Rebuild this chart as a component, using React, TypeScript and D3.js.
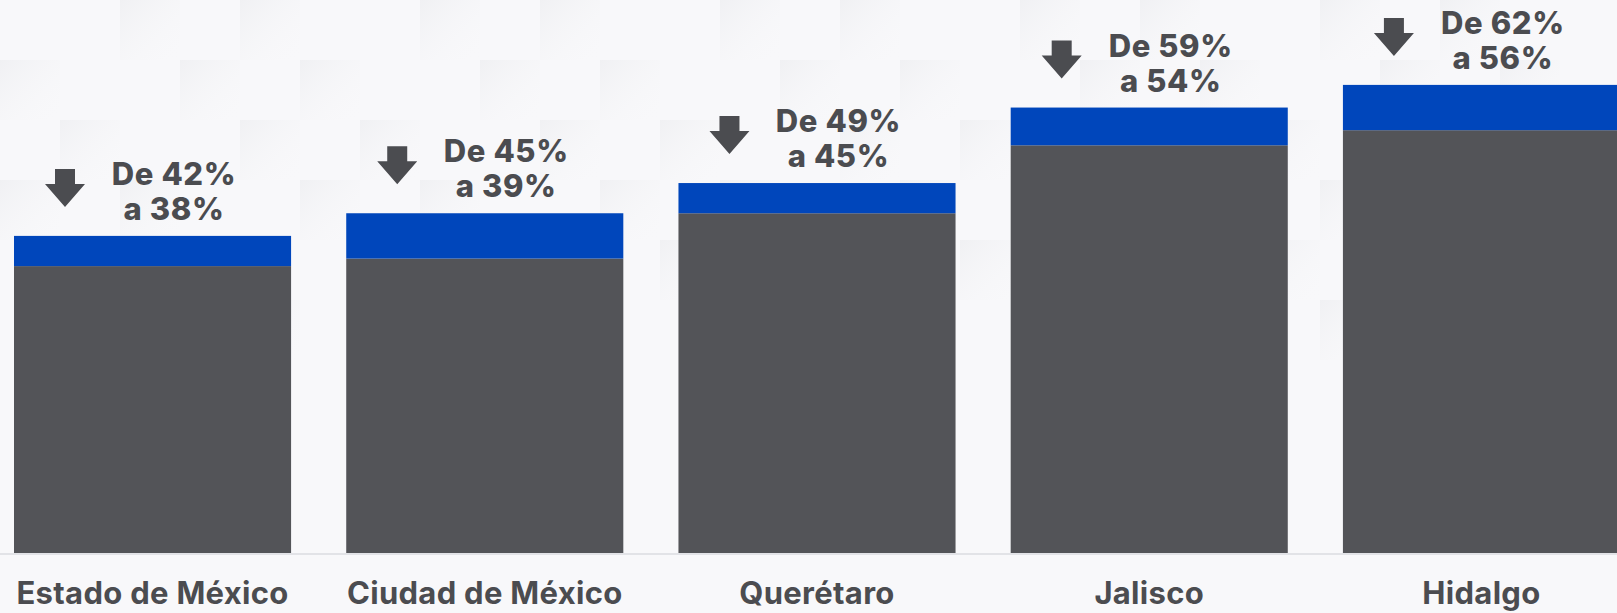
import React from "react";
import * as d3 from "d3";

const categories = ["Estado de México", "Ciudad de México", "Querétaro", "Jalisco", "Hidalgo"];
const beforeValues = [42, 45, 49, 59, 62];
const afterValues = [38, 39, 45, 54, 56];

const W = 1617;
const H = 613;
const BASE_Y = 553;

const GRAY = "#535458";
const BLUE = "#0046BB";
const TEXT = "#4B4C50";
const FONT = "Inter, 'Noto Sans', sans-serif";

export default function App() {
  const x = d3.scaleBand<string>().domain(categories).range([14, 1620]).paddingInner(0.166).paddingOuter(0);
  const y = d3.scaleLinear().domain([0, 100]).range([BASE_Y, BASE_Y - 755]);
  const bw = x.bandwidth();

  const arrow = (cx: number, tipY: number) => {
    const hw = 20, sw = 10, headH = 23, total = 38;
    const top = tipY - total, hs = tipY - headH;
    return `M${cx - sw},${top} L${cx + sw},${top} L${cx + sw},${hs} L${cx + hw},${hs} L${cx},${tipY} L${cx - hw},${hs} L${cx - sw},${hs} Z`;
  };

  const tiles: { x: number; y: number; o: number }[] = [];
  const tileSize = 60;
  for (let i = 0; i * tileSize < W; i++) {
    for (let j = 0; j * tileSize < 360; j++) {
      const v = ((i * 7 + j * 13) % 5) / 5;
      tiles.push({ x: i * tileSize, y: j * tileSize, o: v });
    }
  }

  return (
    <svg width={W} height={H} style={{ position: "absolute", left: 0, top: 0 }} fontFamily={FONT}>
      <defs>
        <linearGradient id="tileG" x1="0" y1="0" x2="1" y2="1">
          <stop offset="0" stopColor="#e4e5e9" stopOpacity="0.8" />
          <stop offset="1" stopColor="#f8f8fa" stopOpacity="0" />
        </linearGradient>
      </defs>
      <rect x={0} y={0} width={W} height={H} fill="#f8f8fa" />
      {tiles.filter(t => t.o > 0.55).map((t, i) => (
        <rect key={i} x={t.x} y={t.y} width={tileSize} height={tileSize} fill="url(#tileG)" opacity={0.5} />
      ))}
      <line x1={0} x2={W} y1={BASE_Y + 1} y2={BASE_Y + 1} stroke="#e2e3e7" strokeWidth={2} />
      {categories.map((c, i) => {
        const x0 = x(c)!;
        const topB = y(beforeValues[i]);
        const topA = y(afterValues[i]);
        const cx = x0 + bw / 2;
        return (
          <g key={c}>
            <rect x={x0} y={topA} width={bw} height={BASE_Y - topA} fill={GRAY} />
            <rect x={x0} y={topB} width={bw} height={topA - topB} fill={BLUE} />
            <path d={arrow(x0 + 51, topB - 29)} fill={TEXT} />
            <text x={x0 + 160} y={topB - 51} textAnchor="middle" fontSize={31} fontWeight={800} letterSpacing={0.6} fill={TEXT}>
              {`De ${beforeValues[i]}%`}
            </text>
            <text x={x0 + 160} y={topB - 16} textAnchor="middle" fontSize={31} fontWeight={800} letterSpacing={0.6} fill={TEXT}>
              {`a ${afterValues[i]}%`}
            </text>
            <text x={cx} y={604} textAnchor="middle" fontSize={31} fontWeight={700} letterSpacing={0.3} fill={TEXT}>
              {c}
            </text>
          </g>
        );
      })}
    </svg>
  );
}
